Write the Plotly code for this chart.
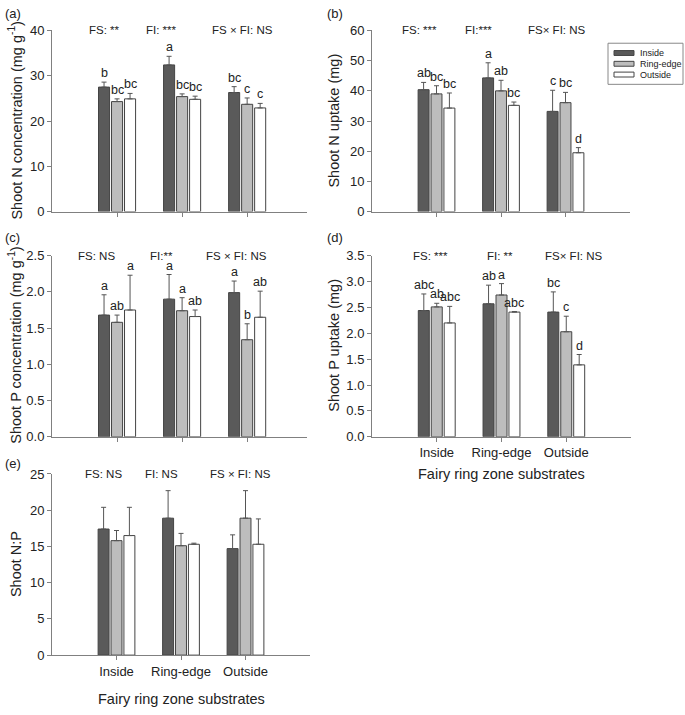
import plotly.graph_objects as go
from plotly.subplots import make_subplots

# categories (fairy ring zone substrates) and series (legend)
categories = ["Inside", "Ring-edge", "Outside"]
series_names = ["Inside", "Ring-edge", "Outside"]

# (a) Shoot N concentration (mg g-1)
a_inside = [27.5, 32.4, 26.3]
a_inside_err = [1.1, 1.9, 1.3]
a_ring = [24.3, 25.4, 23.7]
a_ring_err = [0.6, 0.6, 1.4]
a_out = [24.9, 24.8, 22.9]
a_out_err = [1.2, 0.7, 1.0]
a_letters = [["b", "a", "bc"], ["bc", "bc", "c"], ["bc", "bc", "c"]]

# (b) Shoot N uptake (mg)
b_inside = [40.4, 44.3, 33.2]
b_inside_err = [2.4, 5.0, 7.0]
b_ring = [39.0, 40.0, 36.1]
b_ring_err = [2.7, 3.5, 3.4]
b_out = [34.3, 35.2, 19.5]
b_out_err = [5.0, 1.1, 1.7]
b_letters = [["ab", "a", "c"], ["bc", "ab", "bc"], ["bc", "bc", "d"]]

# (c) Shoot P concentration (mg g-1)
c_inside = [1.68, 1.90, 1.99]
c_inside_err = [0.28, 0.34, 0.16]
c_ring = [1.58, 1.74, 1.34]
c_ring_err = [0.10, 0.18, 0.22]
c_out = [1.75, 1.66, 1.65]
c_out_err = [0.48, 0.09, 0.36]
c_letters = [["a", "a", "a"], ["ab", "a", "b"], ["a", "ab", "ab"]]

# (d) Shoot P uptake (mg)
d_inside = [2.44, 2.57, 2.41]
d_inside_err = [0.32, 0.36, 0.39]
d_ring = [2.51, 2.74, 2.03]
d_ring_err = [0.07, 0.22, 0.30]
d_out = [2.20, 2.41, 1.39]
d_out_err = [0.32, 0.01, 0.20]
d_letters = [["abc", "ab", "bc"], ["ab", "a", "c"], ["abc", "abc", "d"]]

# (e) Shoot N:P
e_inside = [17.4, 18.9, 14.7]
e_inside_err = [3.0, 3.8, 1.9]
e_ring = [15.8, 15.1, 18.9]
e_ring_err = [1.4, 1.7, 3.8]
e_out = [16.5, 15.3, 15.3]
e_out_err = [3.9, 0.15, 3.5]

# ANOVA summaries shown at the top of each panel
a_stats = ["FS: **", "FI: ***", "FS × FI: NS"]
b_stats = ["FS: ***", "FI:***", "FS× FI: NS"]
c_stats = ["FS: NS", "FI:**", "FS × FI: NS"]
d_stats = ["FS: ***", "FI: **", "FS× FI: NS"]
e_stats = ["FS: NS", "FI: NS", "FS × FI: NS"]

FONT = "Arial, Liberation Sans, sans-serif"
TXT = "#222222"
EDGE = "#444444"
fills = ["#5a5a5a", "#bdbdbd", "#ffffff"]

fig = make_subplots(rows=3, cols=2, specs=[[{}, {}], [{}, {}], [{}, None]])

panels = [
    dict(row=1, col=1, ax="", vals=[a_inside, a_ring, a_out],
         errs=[a_inside_err, a_ring_err, a_out_err], letters=a_letters,
         stats=a_stats, stat_x=[0.204, 0.431, 0.749]),
    dict(row=1, col=2, ax="2", vals=[b_inside, b_ring, b_out],
         errs=[b_inside_err, b_ring_err, b_out_err], letters=b_letters,
         stats=b_stats, stat_x=[0.186, 0.411, 0.717]),
    dict(row=2, col=1, ax="3", vals=[c_inside, c_ring, c_out],
         errs=[c_inside_err, c_ring_err, c_out_err], letters=c_letters,
         stats=c_stats, stat_x=[0.173, 0.431, 0.722]),
    dict(row=2, col=2, ax="4", vals=[d_inside, d_ring, d_out],
         errs=[d_inside_err, d_ring_err, d_out_err], letters=d_letters,
         stats=d_stats, stat_x=[0.224, 0.494, 0.780]),
    dict(row=3, col=1, ax="5", vals=[e_inside, e_ring, e_out],
         errs=[e_inside_err, e_ring_err, e_out_err], letters=None,
         stats=e_stats, stat_x=[0.198, 0.426, 0.729]),
]

xpos = [0, 1, 2]
annotations = []
for p in panels:
    for s in range(3):
        fig.add_trace(go.Bar(
            x=xpos, y=p["vals"][s], name=series_names[s], showlegend=False,
            marker=dict(color=fills[s], line=dict(color=EDGE, width=1)),
            error_y=dict(type="data", array=p["errs"][s], arrayminus=[0, 0, 0],
                         symmetric=False, color="#555555", thickness=1, width=2.5),
        ), row=p["row"], col=p["col"])
        if p["letters"]:
            for k in range(3):
                annotations.append(dict(
                    x=xpos[k] + (s - 1) * 0.2, y=p["vals"][s][k] + p["errs"][s][k],
                    xref="x" + p["ax"], yref="y" + p["ax"], text=p["letters"][s][k],
                    showarrow=False, yanchor="bottom", yshift=0,
                    font=dict(size=12.5, color=TXT, family=FONT)))
    for t, xs in zip(p["stats"], p["stat_x"]):
        annotations.append(dict(
            x=xs, y=1, xref="x" + p["ax"] + " domain", yref="y" + p["ax"] + " domain",
            text=t, showarrow=False, yanchor="middle", xanchor="center",
            font=dict(size=11.5, color=TXT, family=FONT)))

# panel geometry (pixels in a 685x715 page)
W, H = 685, 715
geo = {
    "": ((52, 307), (24, 209), [-1, 2.92], [0, 40], 10, None),
    "2": ((372, 630), (24, 209), [-1, 3.0], [0, 60], 10, None),
    "3": ((52, 307), (254, 439), [-1, 2.92], [0, 2.5], 0.5, ".1f"),
    "4": ((372, 631), (254, 439), [-1, 3.0], [0, 3.5], 0.5, ".1f"),
    "5": ((52, 310), (477, 662), [-1, 3.0], [0, 25], 5, None),
}
for ax, ((x0, x1), (y0, y1), xr, yr, dt, fmt) in geo.items():
    show_lbl = ax in ("4", "5")
    fig.layout["xaxis" + ax].update(
        domain=[x0 / W, x1 / W], range=xr, tickvals=xpos, ticktext=categories,
        showticklabels=show_lbl, ticks="outside", ticklen=4, tickcolor="#808080",
        showline=True, linecolor="#808080", linewidth=1, showgrid=False, zeroline=False,
        tickfont=dict(size=13, color=TXT, family=FONT))
    fig.layout["yaxis" + ax].update(
        domain=[1 - y1 / H, 1 - y0 / H], range=yr, dtick=dt, tick0=0,
        tickformat=fmt, ticks="outside", ticklen=4, tickcolor="#808080",
        showline=True, linecolor="#808080", linewidth=1, showgrid=False, zeroline=False,
        tickfont=dict(size=13, color=TXT, family=FONT))

# axis titles
ytitles = [
    ("Shoot N concentration (mg g<sup>-1</sup>)", 15, 116),
    ("Shoot N uptake (mg)", 334, 116),
    ("Shoot P concentration (mg g<sup>-1</sup>)", 15, 346),
    ("Shoot P uptake (mg)", 334, 346),
    ("Shoot N:P", 16, 569),
]
for t, px, py in ytitles:
    annotations.append(dict(x=px / W, y=1 - py / H, xref="paper", yref="paper", text=t,
                            textangle=-90, showarrow=False, xanchor="center", yanchor="middle",
                            font=dict(size=14.5, color=TXT, family=FONT)))
for px, py in [(501, 477), (181, 707)]:
    annotations.append(dict(x=px / W, y=1 - py / H, xref="paper", yref="paper",
                            text="Fairy ring zone substrates", showarrow=False,
                            xanchor="center", yanchor="middle",
                            font=dict(size=14.5, color=TXT, family=FONT)))
for t, px, py in [("(a)", 3, 7), ("(b)", 325, 7), ("(c)", 3, 235), ("(d)", 325, 235), ("(e)", 3, 466)]:
    annotations.append(dict(x=px / W, y=1 - py / H, xref="paper", yref="paper", text=t,
                            showarrow=False, xanchor="left", yanchor="middle",
                            font=dict(size=13, color=TXT, family=FONT)))

# compact boxed legend (as in the original figure)
shapes = [dict(type="rect", xref="paper", yref="paper", x0=608 / W, x1=683 / W,
               y0=1 - 79 / H, y1=1 - 37 / H, line=dict(color="#888888", width=1),
               fillcolor="white", layer="below")]
for i, name in enumerate(series_names):
    yc = 47 + i * 11
    shapes.append(dict(type="rect", xref="paper", yref="paper", x0=614 / W, x1=634 / W,
                       y0=1 - (yc + 2.5) / H, y1=1 - (yc - 2.5) / H,
                       line=dict(color=EDGE, width=1), fillcolor=fills[i]))
    annotations.append(dict(x=638 / W, y=1 - yc / H, xref="paper", yref="paper", text=name,
                            showarrow=False, xanchor="left", yanchor="middle",
                            font=dict(size=9, color=TXT, family=FONT)))

fig.update_layout(
    width=W, height=H, margin=dict(l=0, r=0, t=0, b=0),
    paper_bgcolor="white", plot_bgcolor="white",
    barmode="group", bargap=0.4, bargroupgap=0.15,
    annotations=annotations, shapes=shapes, showlegend=False,
    font=dict(family=FONT, color=TXT),
)

# drop the browser's default 8px page margin so the figure sits at the corner
fig.write_html("out.html", config={"displayModeBar": False},
               post_script="document.body.style.margin='0';")
